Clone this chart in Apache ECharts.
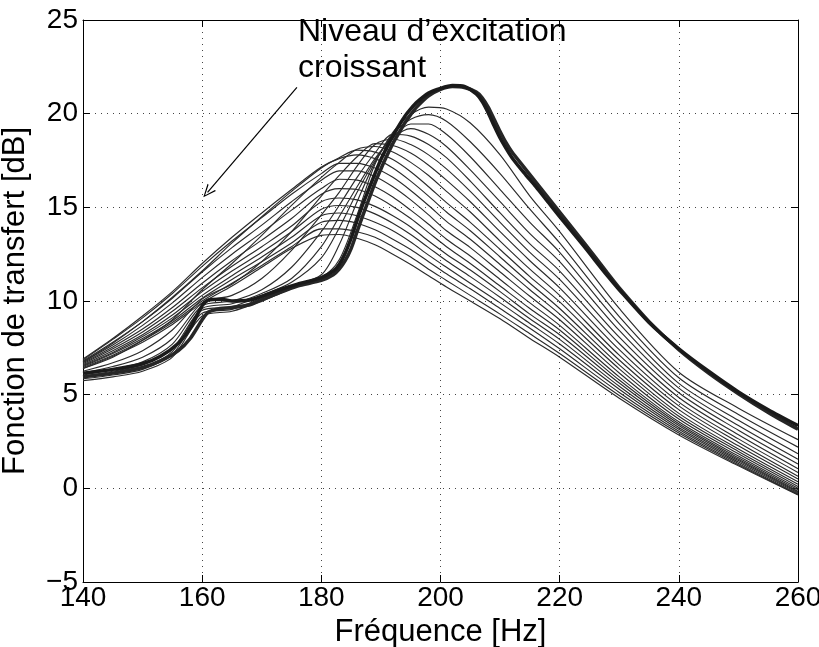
<!DOCTYPE html>
<html><head><meta charset="utf-8">
<script src="https://cdn.jsdelivr.net/npm/echarts@6/dist/echarts.min.js"></script>
<style>html,body{margin:0;padding:0;background:#fff}#c{width:819px;height:647px}</style>
</head><body><div id="c"></div>
<script>
// Frequency grid for the thin curves (Hz)
const freqThin = [140,145,150,155,160,165,170,175,180,183,186,189,192,195,198,201,205,210,215,220,230,240,250,260];
// Thin curves, increasing excitation level T1 -> T20 (dB)
const t1  = [5.75,5.95,6.25,7.0,9.2,9.45,10.0,10.65,11.25,12.2,14.6,17.3,19.0,19.95,20.35,20.25,19.5,17.8,15.6,13.7,9.6,6.2,4.28,2.6];
const t2  = [5.85,6.05,6.35,7.15,9.35,9.55,10.15,10.8,11.4,13.0,15.3,17.4,18.9,19.7,19.95,19.6,18.5,16.8,14.9,13.1,9.17,5.9,3.94,2.2];
const t3  = [5.95,6.15,6.45,7.3,9.5,9.7,10.3,11.0,12.3,13.9,15.8,17.5,18.75,19.45,19.45,18.9,17.7,15.95,14.2,12.6,8.79,5.6,3.63,1.85];
const t4  = [6.0,6.25,6.6,7.45,9.6,9.85,10.4,11.2,12.9,14.5,16.1,17.6,18.7,19.2,18.9,18.25,17.0,15.3,13.6,12.1,8.43,5.35,3.35,1.55];
const t5  = [6.05,6.35,6.75,7.7,9.75,10.0,10.6,11.8,13.7,15.1,16.6,17.9,18.9,18.8,18.35,17.65,16.4,14.7,13.05,11.6,8.07,5.1,3.1,1.3];
const t6  = [6.15,6.5,7.0,8.0,9.9,10.3,11.2,12.7,14.6,15.8,17.2,18.35,18.65,18.35,17.8,17.05,15.85,14.2,12.6,11.15,7.73,4.85,2.86,1.05];
const t7  = [6.25,6.7,7.35,8.45,10.1,10.9,12.1,13.7,15.6,16.7,17.7,18.4,18.3,17.9,17.25,16.45,15.3,13.7,12.15,10.7,7.4,4.6,2.64,0.85];
const t8  = [6.4,7.0,7.9,9.0,10.6,12.0,13.5,15.1,16.6,17.4,18.1,18.25,17.95,17.4,16.7,15.85,14.75,13.2,11.7,10.3,7.11,4.4,2.45,0.65];
const t9  = [6.75,7.75,8.9,10.2,11.6,13.1,14.5,15.85,17.1,17.65,18.05,17.95,17.55,16.9,16.1,15.25,14.2,12.75,11.3,9.95,6.85,4.2,2.27,0.5];
const t10 = [6.9,8.0,9.2,10.5,12.0,13.4,14.7,15.95,17.15,17.6,17.8,17.6,17.1,16.4,15.6,14.75,13.75,12.35,10.95,9.6,6.59,4.0,2.1,0.35];
const t11 = [6.85,7.95,9.1,10.4,11.85,13.2,14.45,15.7,16.8,17.35,17.35,17.1,16.6,15.9,15.1,14.25,13.3,11.95,10.6,9.3,6.38,3.85,1.97,0.22];
const t12 = [6.8,7.8,8.9,10.15,11.55,12.85,14.05,15.3,16.45,16.95,16.95,16.65,16.1,15.4,14.6,13.75,12.85,11.55,10.25,9.0,6.16,3.7,1.84,0.1];
const t13 = [6.75,7.65,8.7,9.9,11.25,12.5,13.65,14.85,16.0,16.5,16.45,16.1,15.55,14.85,14.1,13.3,12.4,11.15,9.9,8.7,5.95,3.55,1.72,0.0];
const t14 = [6.7,7.55,8.5,9.65,10.95,12.15,13.25,14.4,15.7,16.0,15.95,15.6,15.05,14.4,13.65,12.9,12.0,10.8,9.6,8.45,5.78,3.45,1.63,-0.08];
const t15 = [6.65,7.45,8.35,9.45,10.7,11.85,12.9,14.0,15.3,15.5,15.4,15.05,14.55,13.95,13.2,12.5,11.65,10.5,9.3,8.2,5.62,3.35,1.55,-0.15];
const t16 = [6.6,7.35,8.2,9.25,10.5,11.6,12.6,13.7,14.9,15.1,15.0,14.65,14.15,13.55,12.85,12.15,11.3,10.2,9.05,7.95,5.45,3.25,1.48,-0.2];
const t17 = [6.55,7.25,8.1,9.1,10.3,11.35,12.35,13.4,14.55,14.7,14.55,14.2,13.75,13.15,12.45,11.8,10.95,9.9,8.8,7.7,5.29,3.15,1.4,-0.25];
const t18 = [6.5,7.2,8.0,8.95,10.15,11.15,12.1,13.1,14.2,14.3,14.15,13.8,13.3,12.75,12.1,11.45,10.65,9.6,8.55,7.45,5.12,3.05,1.33,-0.3];
const t19 = [6.45,7.1,7.9,8.85,10.0,10.95,11.9,12.9,13.85,13.85,13.7,13.4,12.9,12.35,11.7,11.1,10.3,9.3,8.25,7.2,4.96,2.95,1.26,-0.33];
const t20 = [6.4,7.05,7.8,8.75,9.9,10.8,11.8,12.8,13.5,13.55,13.35,13.0,12.5,11.95,11.35,10.75,10.0,9.05,8.0,7.0,4.81,2.85,1.2,-0.36];

// Frequency grid for the thick (low excitation) bundle
const freqThick = [140,145,150,153,156,158,160,161,163,165,168,170,173,176,180,182,183,184,185,186,187,188,189,190,191,192,193,194,195,196,198,200,202,204,206,207,208,209,210,211,212,214,216,218,220,224,228,230,235,240,245,250,255,260];
const thickA = [6.15,6.35,6.65,7.05,7.75,8.55,9.75,10.05,10.1,10.0,10.05,10.25,10.6,10.9,11.25,11.6,11.95,12.55,13.35,14.3,15.2,16.0,16.8,17.55,18.2,18.8,19.35,19.85,20.25,20.6,21.1,21.35,21.5,21.45,21.05,20.65,20.05,19.35,18.7,18.15,17.65,16.85,16.1,15.3,14.5,12.95,11.35,10.6,8.85,7.45,6.25,5.15,4.2,3.35];
const thickB = [5.95,6.15,6.45,6.8,7.35,8.0,9.0,9.4,9.6,9.65,9.8,10.05,10.45,10.8,11.1,11.4,11.7,12.15,12.8,13.7,14.6,15.45,16.3,17.05,17.75,18.4,18.95,19.5,19.95,20.35,20.95,21.3,21.45,21.4,21.15,20.85,20.35,19.7,19.05,18.45,17.95,17.15,16.35,15.55,14.75,13.15,11.5,10.7,8.9,7.4,6.15,5.05,4.05,3.15];

const xTicks = [140,160,180,200,220,240,260];
const yTicks = [-5,0,5,10,15,20,25];
const xTitle = 'Fréquence [Hz]';
const yTitle = 'Fonction de transfert [dB]';
const noteText = ['Niveau d\u2019excitation', 'croissant'];
const arrowFrom = [175.9, 21.4];
const arrowTo = [160.9, 15.8];

const thinCurves = [t1,t2,t3,t4,t5,t6,t7,t8,t9,t10,t11,t12,t13,t14,t15,t16,t17,t18,t19,t20];
const FONT = '"Liberation Sans", Arial, Helvetica, sans-serif';
const pair = (xs, ys) => xs.map((x, i) => [x, ys[i]]);
const fmt = v => String(v).replace('-', '\u2212');

const series = [];
thinCurves.forEach((c) => {
  series.push({
    type: 'line', data: pair(freqThin, c), smooth: 0.3,
    symbol: 'none', lineStyle: { color: '#2b2b2b', width: 1.15 }, z: 2, silent: true
  });
});
series.push({ type: 'line', data: pair(freqThick, thickB), smooth: 0.25,
  symbol: 'none', lineStyle: { color: '#262626', width: 3.5 }, z: 3, silent: true });
series.push({ type: 'line', data: pair(freqThick, thickA), smooth: 0.25,
  symbol: 'none', lineStyle: { color: '#1a1a1a', width: 3.5 }, z: 4, silent: true,
  markLine: {
    silent: true, animation: false,
    symbol: ['none', 'path://M5,0 L10,12 L8.8,12 L5,2.6 L1.2,12 L0,12 Z'],
    symbolSize: [11, 13],
    lineStyle: { color: '#000', width: 1.2, type: 'solid' },
    label: { show: false },
    data: [[{ coord: arrowFrom }, { coord: arrowTo }]]
  }
});

const gridLine = { show: true, lineStyle: { color: '#444', width: 1, type: [1, 5] } };
const axisBase = (extra) => Object.assign({
  type: 'value',
  axisLine: { show: true, onZero: false, lineStyle: { color: '#000', width: 1 } },
  axisTick: { show: true, inside: true, length: 7, lineStyle: { color: '#000' } },
}, extra);

const option = {
  animation: false,
  backgroundColor: '#fff',
  grid: { left: 83, right: 21, top: 20, bottom: 65, containLabel: false, outerBoundsMode: 'none' },
  xAxis: [
    axisBase({ position: 'bottom', min: xTicks[0], max: xTicks[xTicks.length-1], interval: 20,
      splitLine: gridLine,
      axisLabel: { color: '#000', fontSize: 28, fontFamily: FONT, margin: 2, formatter: fmt },
      name: xTitle, nameLocation: 'middle', nameGap: 27,
      nameTextStyle: { color: '#000', fontSize: 31, fontFamily: FONT, verticalAlign: 'top' } }),
    axisBase({ position: 'top', min: xTicks[0], max: xTicks[xTicks.length-1], interval: 20,
      splitLine: { show: false }, axisLabel: { show: false } })
  ],
  yAxis: [
    axisBase({ position: 'left', min: yTicks[0], max: yTicks[yTicks.length-1], interval: 5,
      splitLine: gridLine,
      axisLabel: { color: '#000', fontSize: 28, fontFamily: FONT, margin: 5, formatter: fmt },
      name: yTitle, nameLocation: 'middle', nameGap: 52,
      nameTextStyle: { color: '#000', fontSize: 31, fontFamily: FONT } }),
    axisBase({ position: 'right', min: yTicks[0], max: yTicks[yTicks.length-1], interval: 5,
      splitLine: { show: false }, axisLabel: { show: false } })
  ],
  graphic: [
    { type: 'text', left: 298, top: 14, z: 10,
      style: { text: noteText.join('\n'), font: '32px ' + FONT, fill: '#000', lineHeight: 36 } }
  ],
  series: series
};
const chart = echarts.init(document.getElementById('c'), null, { renderer: 'canvas' });
chart.setOption(option);
</script></body></html>
